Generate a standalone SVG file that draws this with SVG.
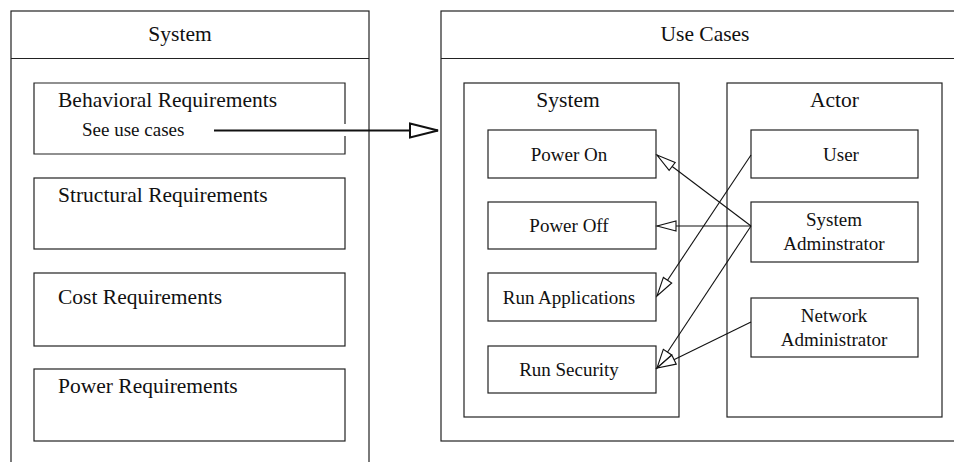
<svg xmlns="http://www.w3.org/2000/svg" width="954" height="462" viewBox="0 0 954 462">
<style>
.box{fill:#fff;stroke:#222;stroke-width:1.2}
.open{fill:none;stroke:#222;stroke-width:1.2}
.t{font-family:"Liberation Serif","Times New Roman",serif;fill:#111}
.lg{font-size:21.5px}
.md{font-size:19px}
.c{text-anchor:middle}
.conn{stroke:#111;stroke-width:1.1;fill:none}
.main{stroke:#111;stroke-width:2.2;fill:none}
</style>
<defs>
<marker id="tri" markerWidth="22" markerHeight="14" refX="20" refY="6" orient="auto" markerUnits="userSpaceOnUse">
<path d="M1,1 L20,6 L1,11 Z" fill="#fff" stroke="#111" stroke-width="1.1"/>
</marker>
<marker id="bigtri" markerWidth="34" markerHeight="20" refX="30" refY="9" orient="auto" markerUnits="userSpaceOnUse">
<path d="M2,2 L30,9 L2,16 Z" fill="#fff" stroke="#111" stroke-width="2"/>
</marker>
</defs>
<g id="system-panel">
<rect class="box" x="11" y="11" width="358" height="470"/>
<line class="open" x1="11" y1="58.5" x2="369" y2="58.5"/>
<text class="t lg c" x="180" y="41">System</text>
</g>
<g id="behavioral">
<path class="open" d="M345,124 V83 H34 V154 H345 V136"/>
<text class="t lg" x="58" y="107">Behavioral Requirements</text>
<text class="t md" x="82" y="136">See use cases</text>
</g>
<g id="structural">
<rect class="box" x="34" y="178" width="311" height="71"/>
<text class="t lg" x="58" y="202">Structural Requirements</text>
</g>
<g id="cost">
<rect class="box" x="34" y="273" width="311" height="73"/>
<text class="t lg" x="58" y="304">Cost Requirements</text>
</g>
<g id="power-req">
<rect class="box" x="34" y="369" width="311" height="72"/>
<text class="t lg" x="58" y="393">Power Requirements</text>
</g>
<g id="use-cases-panel">
<rect class="box" x="441" y="11" width="540" height="430"/>
<line class="open" x1="441" y1="58.5" x2="981" y2="58.5"/>
<text class="t lg c" x="705" y="41">Use Cases</text>
</g>
<g id="uc-system">
<rect class="box" x="464" y="83" width="215" height="334"/>
<text class="t lg c" x="568" y="107">System</text>
</g>
<g id="uc-actor">
<rect class="box" x="727" y="83" width="215" height="334"/>
<text class="t lg c" x="834.5" y="107">Actor</text>
</g>
<g id="power-on">
<rect class="box" x="488" y="130" width="168" height="48"/>
<text class="t md c" x="569" y="161">Power On</text>
</g>
<g id="power-off">
<rect class="box" x="488" y="202" width="168" height="47"/>
<text class="t md c" x="569" y="232">Power Off</text>
</g>
<g id="run-applications">
<rect class="box" x="488" y="273" width="168" height="48"/>
<text class="t md c" x="569" y="304">Run Applications</text>
</g>
<g id="run-security">
<rect class="box" x="488" y="346" width="168" height="47"/>
<text class="t md c" x="569" y="376">Run Security</text>
</g>
<g id="user">
<rect class="box" x="751" y="130" width="167" height="48"/>
<text class="t md c" x="841" y="161">User</text>
</g>
<g id="system-administrator">
<rect class="box" x="751" y="202" width="167" height="60"/>
<text class="t md c" x="834" y="226">System</text>
<text class="t md c" x="834" y="250">Adminstrator</text>
</g>
<g id="network-administrator">
<rect class="box" x="751" y="298" width="167" height="59"/>
<text class="t md c" x="834" y="322">Network</text>
<text class="t md c" x="834" y="346">Administrator</text>
</g>
<g id="connectors">
<line class="main" x1="214" y1="130.5" x2="438" y2="130.5" marker-end="url(#bigtri)"/>
<line class="conn" x1="751" y1="226" x2="657" y2="155" marker-end="url(#tri)"/>
<line class="conn" x1="751" y1="226" x2="657" y2="226" marker-end="url(#tri)"/>
<line class="conn" x1="751" y1="155" x2="657" y2="296" marker-end="url(#tri)"/>
<line class="conn" x1="751" y1="226" x2="657" y2="368" marker-end="url(#tri)"/>
<line class="conn" x1="751" y1="322" x2="657" y2="368" marker-end="url(#tri)"/>
</g>
</svg>
